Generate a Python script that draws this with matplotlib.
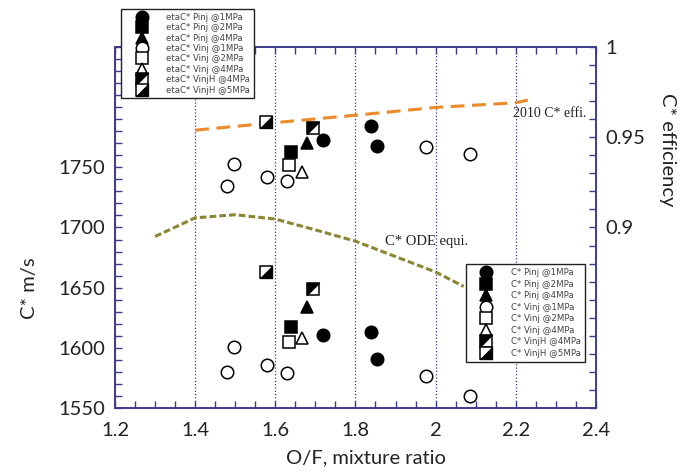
import matplotlib.pyplot as plt
from matplotlib.legend_handler import HandlerTuple
from matplotlib.ticker import MultipleLocator
import numpy as np

#---------------------------------------------------------------------------------
# data (O/F, C* in m/s, C* efficiency)
#---------------------------------------------------------------------------------
of_pinj1 = [1.72, 1.838, 1.853]
cs_pinj1 = [1610.6, 1613, 1591]
eta_pinj1 = [0.9487, 0.9563, 0.9454]

of_pinj2 = [1.64]
cs_pinj2 = [1617.5]
eta_pinj2 = [0.9418]

of_pinj4 = [1.679]
cs_pinj4 = [1634]
eta_pinj4 = [0.9468]

of_vinj1 = [1.479, 1.498, 1.58, 1.628, 1.975, 2.087]
cs_vinj1 = [1580, 1600.6, 1586, 1579, 1576.7, 1559.6]
eta_vinj1 = [0.923, 0.935, 0.928, 0.926, 0.9448, 0.9406]

of_vinj2 = [1.634]
cs_vinj2 = [1605]
eta_vinj2 = [0.9348]

of_vinj4 = [1.667]
cs_vinj4 = [1608]
eta_vinj4 = [0.931]

of_vinjh4 = [1.694]
cs_vinjh4 = [1649]
eta_vinjh4 = [0.955]

of_vinjh5 = [1.576]
cs_vinjh5 = [1663.3]
eta_vinjh5 = [0.9585]

# 2010 C* efficiency curve (right axis)
of_eff2010 = [1.4, 1.576, 1.8, 2.0, 2.2, 2.23]
eta_eff2010 = [0.9539, 0.9576, 0.9622, 0.9665, 0.9691, 0.9706]

# C* ODE equilibrium curve (left axis)
of_ode = [1.3, 1.4, 1.5, 1.6, 1.7, 1.8, 1.9, 2.0, 2.07]
cs_ode = [1692.5, 1708, 1710.6, 1707, 1698, 1688.6, 1675.8, 1663, 1651]

groups = ['Pinj @1MPa', 'Pinj @2MPa', 'Pinj @4MPa', 'Vinj @1MPa',
          'Vinj @2MPa', 'Vinj @4MPa', 'VinjH @4MPa', 'VinjH @5MPa']

xticks = [1.2, 1.4, 1.6, 1.8, 2.0, 2.2, 2.4]
xticklabels = ['1.2', '1.4', '1.6', '1.8', '2', '2.2', '2.4']
yticks_left = [1550, 1600, 1650, 1700, 1750]
yticks_right = [0.9, 0.95, 1.0]
yticklabels_right = ['0.9', '0.95', '1']

#---------------------------------------------------------------------------------
navy = '#3c3c8a'
ms = 9
tri_ul = [(-1, -1), (-1, 1), (1, 1), (-1, -1)]   # black upper-left half
tri_lr = [(-1, -1), (1, -1), (1, 1), (-1, -1)]   # black lower-right half


def points(axis, x, y, marker, filled):
    fc = 'k' if filled else 'white'
    h, = axis.plot(x, y, ls='none', marker=marker, ms=ms, mfc=fc, mec='k',
                   mew=1.1, zorder=5)
    return h


def half_square(axis, x, y, tri):
    h1, = axis.plot(x, y, ls='none', marker='s', ms=ms, mfc='white', mec='k',
                    mew=1.1, zorder=5)
    h2, = axis.plot(x, y, ls='none', marker=tri, ms=ms, mfc='k', mec='k',
                    mew=0.6, zorder=6)
    return (h1, h2)


def draw_set(axis, ys):
    hs = []
    hs.append(points(axis, of_pinj1, ys[0], 'o', True))
    hs.append(points(axis, of_pinj2, ys[1], 's', True))
    hs.append(points(axis, of_pinj4, ys[2], '^', True))
    hs.append(points(axis, of_vinj1, ys[3], 'o', False))
    hs.append(points(axis, of_vinj2, ys[4], 's', False))
    hs.append(points(axis, of_vinj4, ys[5], '^', False))
    hs.append(half_square(axis, of_vinjh4, ys[6], tri_ul))
    hs.append(half_square(axis, of_vinjh5, ys[7], tri_lr))
    return hs


fig = plt.figure(figsize=(6.89, 4.75), dpi=100)
ax = fig.add_axes([0.1669, 0.1411, 0.698, 0.760])
ax2 = ax.twinx()

ax.set_xlim(1.2, 2.4)
ax.set_ylim(1550, 1850)
ax2.set_ylim(0.8, 1.0)

# curves
ax.plot(of_ode, cs_ode, color='#8a8632', lw=2.2, dashes=(2.2, 1.0), zorder=3)
ax2.plot(of_eff2010, eta_eff2010, color='#ec8a2a', lw=2.2, dashes=(4.5, 2.5), zorder=3)
ax.text(1.978, 1688, 'C* ODE equi.', family='Liberation Serif', fontsize=10.5,
        ha='center', va='center', color='#222222')
ax2.text(2.375, 0.9632, '2010 C* effi.', family='Liberation Serif', fontsize=10,
         ha='right', va='center', color='#222222')

# measured points
h_cs = draw_set(ax, [cs_pinj1, cs_pinj2, cs_pinj4, cs_vinj1, cs_vinj2, cs_vinj4,
                     cs_vinjh4, cs_vinjh5])
h_eta = draw_set(ax2, [eta_pinj1, eta_pinj2, eta_pinj4, eta_vinj1, eta_vinj2,
                       eta_vinj4, eta_vinjh4, eta_vinjh5])

# axes styling
ax.set_xticks(xticks)
ax.set_xticklabels(xticklabels)
ax.xaxis.set_minor_locator(MultipleLocator(0.05))
ax.set_yticks(yticks_left)
ax.yaxis.set_minor_locator(MultipleLocator(10))
ax2.set_yticks(yticks_right)
ax2.set_yticklabels(yticklabels_right)
ax2.yaxis.set_minor_locator(MultipleLocator(0.01))

ax.grid(axis='x', which='major', linestyle=':', color=navy, linewidth=0.9)
ax.set_axisbelow(True)

for a in (ax, ax2):
    for s in a.spines.values():
        s.set_color(navy)
        s.set_linewidth(1.2)
    for lab in a.get_xticklabels() + a.get_yticklabels():
        lab.set_family('Lato')

ax.tick_params(axis='x', which='both', direction='in', top=True, bottom=True,
               colors=navy, labelcolor='#222222', labelsize=14.5, pad=10,
               length=5, width=1)
ax.tick_params(axis='y', which='both', direction='in', left=True, right=False,
               colors=navy, labelcolor='#222222', labelsize=14.5, pad=7,
               length=5, width=1)
ax2.tick_params(axis='y', which='both', direction='in', right=True,
                colors=navy, labelcolor='#222222', labelsize=14.5, pad=7,
                length=5, width=1)

fig.text(0.0435, 0.394, 'C* m/s', rotation=90, family='Lato', fontsize=14.5,
         ha='center', va='center', color='#222222')
fig.text(0.9695, 0.684, 'C* efficiency', rotation=270, family='Lato', fontsize=14.5,
         ha='center', va='center', color='#222222')
fig.text(0.531, 0.036, 'O/F, mixture ratio', family='Lato', fontsize=14.5,
         ha='center', va='center', color='#222222')

# legends
leg_kw = dict(loc='upper left', bbox_transform=fig.transFigure, borderaxespad=0,
              fontsize=6.2, fancybox=False, framealpha=1, edgecolor='#222222',
              handlelength=3.9, handletextpad=0.9, borderpad=0.45,
              handler_map={tuple: HandlerTuple(ndivide=1)})
leg1 = ax2.legend(h_eta, ['etaC* ' + g for g in groups],
                  bbox_to_anchor=(0.1756, 0.981), labelspacing=0.16, **leg_kw)
for t in leg1.get_texts():
    t.set_color('#444444')
leg1.get_frame().set_linewidth(1.0)
ax2.add_artist(leg1)
leg2 = ax2.legend(h_cs, ['C* ' + g for g in groups],
                  bbox_to_anchor=(0.676, 0.444), labelspacing=0.3, **leg_kw)
for t in leg2.get_texts():
    t.set_color('#444444')
leg2.get_frame().set_linewidth(1.0)

fig.savefig('out.png', dpi=100)
